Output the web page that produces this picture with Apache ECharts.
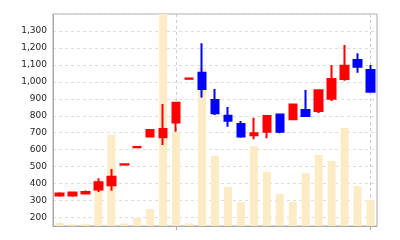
<!DOCTYPE html>
<html>
<head>
<meta charset="utf-8">
<script src="https://cdn.jsdelivr.net/npm/echarts@6/dist/echarts.min.js"></script>
<style>html,body{margin:0;padding:0;background:#fff}#c{width:400px;height:240px}</style>
</head>
<body>
<div id="c"></div>
<script>
const categories = ['1','2','3','4','5','6','7','8','9','10','11','12','13','14','15','16','17','18','19','20','21','22','23','24','25'];
const opens  = [330, 330, 342, 365, 390, 512, 614, 677, 673, 760, 1018, 1054, 893, 800, 751, 685, 706, 808, 780, 834, 828, 900, 1017, 1129, 1070];
const closes = [342, 347, 351, 408, 440, 514, 616, 716, 722, 877, 1020, 958, 815, 771, 677, 697, 799, 706, 867, 799, 950, 1017, 1095, 1089, 942];
const lows   = [323, 323, 335, 350, 358, 512, 614, 676, 627, 706, 1018, 907, 805, 735, 671, 661, 667, 697, 778, 797, 816, 887, 1007, 1054, 936];
const highs  = [349, 352, 360, 431, 486, 514, 616, 717, 869, 878, 1020, 1227, 958, 852, 769, 788, 800, 810, 868, 952, 952, 1100, 1217, 1168, 1099];
const volumes = [33, 17, 23, 460, 910, 27, 83, 170, 2600, 943, 27, 1580, 700, 390, 240, 800, 540, 320, 240, 530, 710, 650, 980, 400, 260];
const markedTicks = [9, 24];

const candleData = categories.map((c, i) => [opens[i], closes[i], lows[i], highs[i]]);
const chart = echarts.init(document.getElementById('c'), null, {renderer: 'canvas'});
chart.setOption({
  animation: false,
  backgroundColor: '#fff',
  grid: {left: 53, right: 23, top: 14, bottom: 14, show: true, borderColor: '#aaa', borderWidth: 1, backgroundColor: 'transparent'},
  xAxis: {
    type: 'category', data: categories, boundaryGap: true,
    axisLine: {show: true, lineStyle: {color: '#aaa'}},
    axisLabel: {show: false},
    axisTick: {show: true, alignWithLabel: true, length: 4, interval: (i) => markedTicks.includes(i), lineStyle: {color: '#aaa'}},
    splitLine: {show: true, alignWithLabel: true, interval: (i) => markedTicks.includes(i), lineStyle: {color: '#ccc', type: [3, 3]}}
  },
  yAxis: [{
    type: 'value', min: 150, max: 1400, minInterval: 100, maxInterval: 100, scale: true,
    axisLine: {show: true, lineStyle: {color: '#aaa'}},
    axisTick: {show: false},
    axisLabel: {showMinLabel: false, showMaxLabel: false, color: '#222', fontFamily: 'DejaVu Sans', fontSize: 9, margin: 6,
      formatter: (v) => v.toLocaleString('en-US')},
    splitLine: {show: true, lineStyle: {color: '#ddd', type: [3, 3]}}
  }, {
    type: 'value', min: 0, max: 2120, show: false, splitLine: {show: false}
  }],
  series: [{
    type: 'bar', yAxisIndex: 1, data: volumes, barWidth: 8, clip: true,
    itemStyle: {color: '#fdebc6'}, z: 1
  }, {
    type: 'candlestick', yAxisIndex: 0, data: candleData, barWidth: 8, z: 3,
    itemStyle: {color: '#ff0000', color0: '#0000ff', borderColor: '#ff0000', borderColor0: '#0000ff', borderWidth: 2}
  }]
});
</script>
</body>
</html>
